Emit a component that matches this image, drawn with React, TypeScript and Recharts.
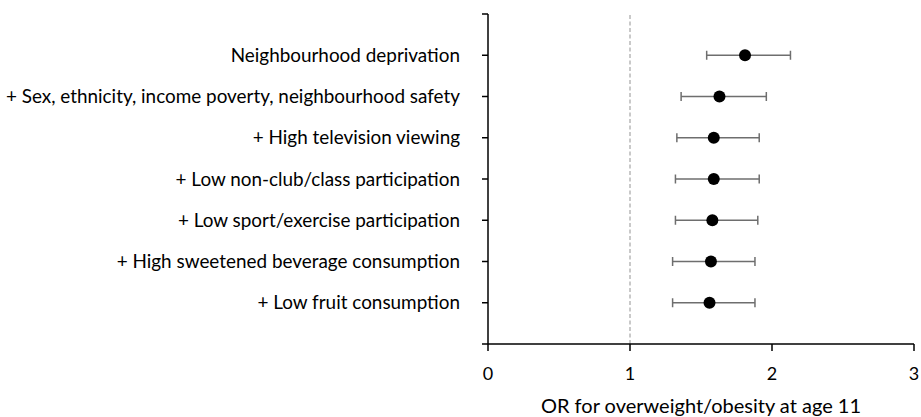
import React from 'react';
import { ScatterChart, Scatter, XAxis, YAxis, ErrorBar, ReferenceLine, Label } from 'recharts';

const labels = [
  'Neighbourhood deprivation',
  '+ Sex, ethnicity, income poverty, neighbourhood safety',
  '+ High television viewing',
  '+ Low non-club/class participation',
  '+ Low sport/exercise participation',
  '+ High sweetened beverage consumption',
  '+ Low fruit consumption',
];
const oddsRatios = [1.81, 1.63, 1.59, 1.59, 1.58, 1.57, 1.56];
const lowerCI = [1.54, 1.36, 1.33, 1.32, 1.32, 1.30, 1.30];
const upperCI = [2.13, 1.96, 1.91, 1.91, 1.90, 1.88, 1.88];
const xTicks = [0, 1, 2, 3];

const data = labels.map((label, i) => ({
  label,
  row: labels.length - i,
  or: oddsRatios[i],
  err: [oddsRatios[i] - lowerCI[i], upperCI[i] - oddsRatios[i]],
}));

const yTicks = Array.from({ length: labels.length + 2 }, (_, i) => i);
const FONT = 'Lato, "Open Sans", sans-serif';

const Dot = (props: any) => {
  const { cx, cy } = props;
  return <circle cx={cx} cy={cy} r={6} fill="#000" />;
};

export default function App() {
  return (
    <div style={{ width: 921, height: 417, fontFamily: FONT, overflow: 'hidden' }}>
      <style>{`html,body{margin:0;padding:0;overflow:hidden;}`}</style>
      <ScatterChart width={921} height={417} margin={{ top: 14, right: 7, left: 0, bottom: 0 }}>
        <XAxis
          type="number"
          dataKey="or"
          domain={[0, 3]}
          ticks={xTicks}
          interval={0}
          height={73}
          tickSize={7}
          tickMargin={16}
          axisLine={{ stroke: '#000', strokeWidth: 1.5 }}
          tickLine={{ stroke: '#000', strokeWidth: 1.5 }}
          tick={{ fill: '#000', fontSize: 18, fontFamily: FONT }}
        >
          <Label
            value="OR for overweight/obesity at age 11"
            position="insideBottom"
            offset={4}
            style={{ fill: '#000', fontSize: 20, fontFamily: FONT }}
          />
        </XAxis>
        <YAxis
          type="number"
          dataKey="row"
          domain={[0, labels.length + 1]}
          ticks={yTicks}
          interval={0}
          width={488}
          tickSize={6}
          tickMargin={22}
          tickFormatter={(v: number) => (v >= 1 && v <= labels.length ? labels[labels.length - v] : '')}
          axisLine={{ stroke: '#000', strokeWidth: 1.5 }}
          tickLine={{ stroke: '#000', strokeWidth: 1.5 }}
          tick={{ fill: '#000', fontSize: 18.9, fontFamily: FONT }}
        />
        <ReferenceLine x={1} stroke="#a6a6a6" strokeWidth={1.2} strokeDasharray="4 2.5" ifOverflow="extendDomain" />
        <Scatter data={data} shape={<Dot />} isAnimationActive={false}>
          <ErrorBar dataKey="err" direction="x" width={4.5} stroke="#6e6e6e" strokeWidth={1.5} isAnimationActive={false} />
        </Scatter>
      </ScatterChart>
    </div>
  );
}
